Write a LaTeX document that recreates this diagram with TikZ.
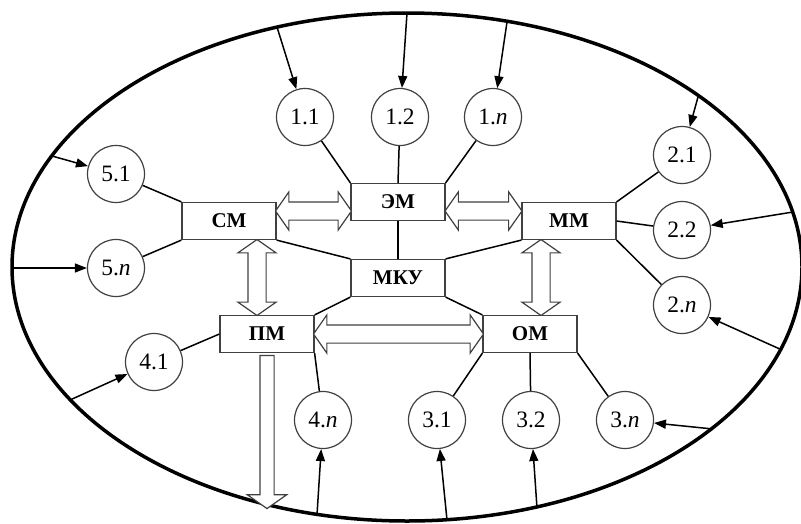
\documentclass[tikz,border=0pt]{standalone}
\usepackage{fontspec}
\setmainfont{Liberation Serif}
\usetikzlibrary{arrows.meta,shapes.arrows}
\definecolor{edgegray}{HTML}{404040}
\tikzset{
  block/.style={draw=edgegray, line width=1.2pt, fill=white, minimum width=94pt, minimum height=37pt, inner sep=0pt, font=\fontsize{21}{25}\selectfont\bfseries},
  elem/.style={circle, draw=edgegray, line width=1.2pt, minimum size=57pt, inner sep=0pt, font=\fontsize{23.5}{28}\selectfont},
  link/.style={line width=1.5pt},
  feed/.style={line width=1.5pt, -{Triangle[length=12pt,width=9pt]}},
  dblflow/.style={double arrow, draw=edgegray, fill=white, line width=1.2pt, inner xsep=0pt, inner ysep=8.5pt, double arrow head extend=10pt, double arrow tip angle=110},
  outflow/.style={single arrow, draw=edgegray, fill=white, line width=1.2pt, inner xsep=0pt, inner ysep=6.5pt, single arrow head extend=12.5pt, single arrow tip angle=110}
}
\begin{document}
\begin{tikzpicture}[x=1pt,y=-1pt]
            \useasboundingbox (0,0) rectangle (801,523);
            % Draw system boundary
            \draw[line width=3.5pt] (407,267) ellipse [x radius=395, y radius=254];

            % Define the modules
            \node[block] (EM) at (398,202) {ЭМ};
            \node[block] (CM) at (229,221) {СМ};
            \node[block] (MM) at (569,221) {ММ};
            \node[block] (MKU) at (398,278) {МКУ};
            \node[block] (PM) at (267,334) {ПМ};
            \node[block] (OM) at (530,334) {ОМ};

            % Define the elements
            \node[elem] (c11) at (305,117) {1.1};
            \node[elem] (c12) at (400,117) {1.2};
            \node[elem] (c1n) at (493,117) {1.\textit{n}};
            \node[elem] (c21) at (682,155) {2.1};
            \node[elem] (c22) at (682,230) {2.2};
            \node[elem] (c2n) at (682,305) {2.\textit{n}};
            \node[elem] (c31) at (437,420) {3.1};
            \node[elem] (c32) at (531,420) {3.2};
            \node[elem] (c3n) at (625,420) {3.\textit{n}};
            \node[elem] (c41) at (154,362) {4.1};
            \node[elem] (c4n) at (323,420) {4.\textit{n}};
            \node[elem] (c51) at (116,174) {5.1};
            \node[elem] (c5n) at (116,268) {5.\textit{n}};

            % Define the inputs on the boundary
            \coordinate (i11) at (277,27);
            \coordinate (i12) at (407,13);
            \coordinate (i1n) at (507,22);
            \coordinate (i21) at (698,97);
            \coordinate (i22) at (793,212);
            \coordinate (i2n) at (782,350);
            \coordinate (i31) at (447,520);
            \coordinate (i32) at (537,508);
            \coordinate (i3n) at (713,429);
            \coordinate (i41) at (70,400);
            \coordinate (i4n) at (317,515);
            \coordinate (i51) at (52,156);
            \coordinate (i5n) at (12,268);
            \coordinate (pmout) at (267,506);

            % Draw links
            \draw[link] (c11) -- (EM.north west);
            \draw[link] (c12) -- (EM.north);
            \draw[link] (c1n) -- (EM.north east);
            \draw[link] (c21) -- (MM.north east);
            \draw[link] (c22) -- (MM.east);
            \draw[link] (c2n) -- (MM.south east);
            \draw[link] (c31) -- (OM.south west);
            \draw[link] (c32) -- (OM.south);
            \draw[link] (c3n) -- (OM.south east);
            \draw[link] (c41) -- (PM.west);
            \draw[link] (c4n) -- (PM.south east);
            \draw[link] (c51) -- (CM.north west);
            \draw[link] (c5n) -- (CM.south west);

            \draw[link] (CM.south east) -- (MKU.north west);
            \draw[link] (EM.south) -- (MKU.north);
            \draw[link] (MM.south west) -- (MKU.north east);
            \draw[link] (MKU.south west) -- (PM.north east);
            \draw[link] (MKU.south east) -- (OM.north west);

            % Draw arrows
            \draw[feed] (i11) -- (c11);
            \draw[feed] (i12) -- (c12);
            \draw[feed] (i1n) -- (c1n);
            \draw[feed] (i21) -- (c21);
            \draw[feed] (i22) -- (c22);
            \draw[feed] (i2n) -- (c2n);
            \draw[feed] (i31) -- (c31);
            \draw[feed] (i32) -- (c32);
            \draw[feed] (i3n) -- (c3n);
            \draw[feed] (i41) -- (c41);
            \draw[feed] (i4n) -- (c4n);
            \draw[feed] (i51) -- (c51);
            \draw[feed] (i5n) -- (c5n);

            % Draw flows between modules
            \path ([yshift=10pt]CM.east) -- ([yshift=-9pt]EM.west) node[midway, sloped, dblflow, minimum height=76pt] {};
            \path ([yshift=-9pt]EM.east) -- ([yshift=10pt]MM.west) node[midway, sloped, dblflow, minimum height=77pt] {};
            \path ([xshift=28pt]CM.south) -- ([xshift=-10pt]PM.north) node[midway, sloped, dblflow, minimum height=76pt] {};
            \path ([xshift=-28pt]MM.south) -- ([xshift=11pt]OM.north) node[midway, sloped, dblflow, minimum height=76pt] {};
            \path (PM.east) -- (OM.west) node[midway, sloped, dblflow, minimum height=170pt] {};
            \path (PM.south) -- (pmout) node[midway, sloped, outflow, minimum height=153pt] {};
        \end{tikzpicture}
\end{document}
